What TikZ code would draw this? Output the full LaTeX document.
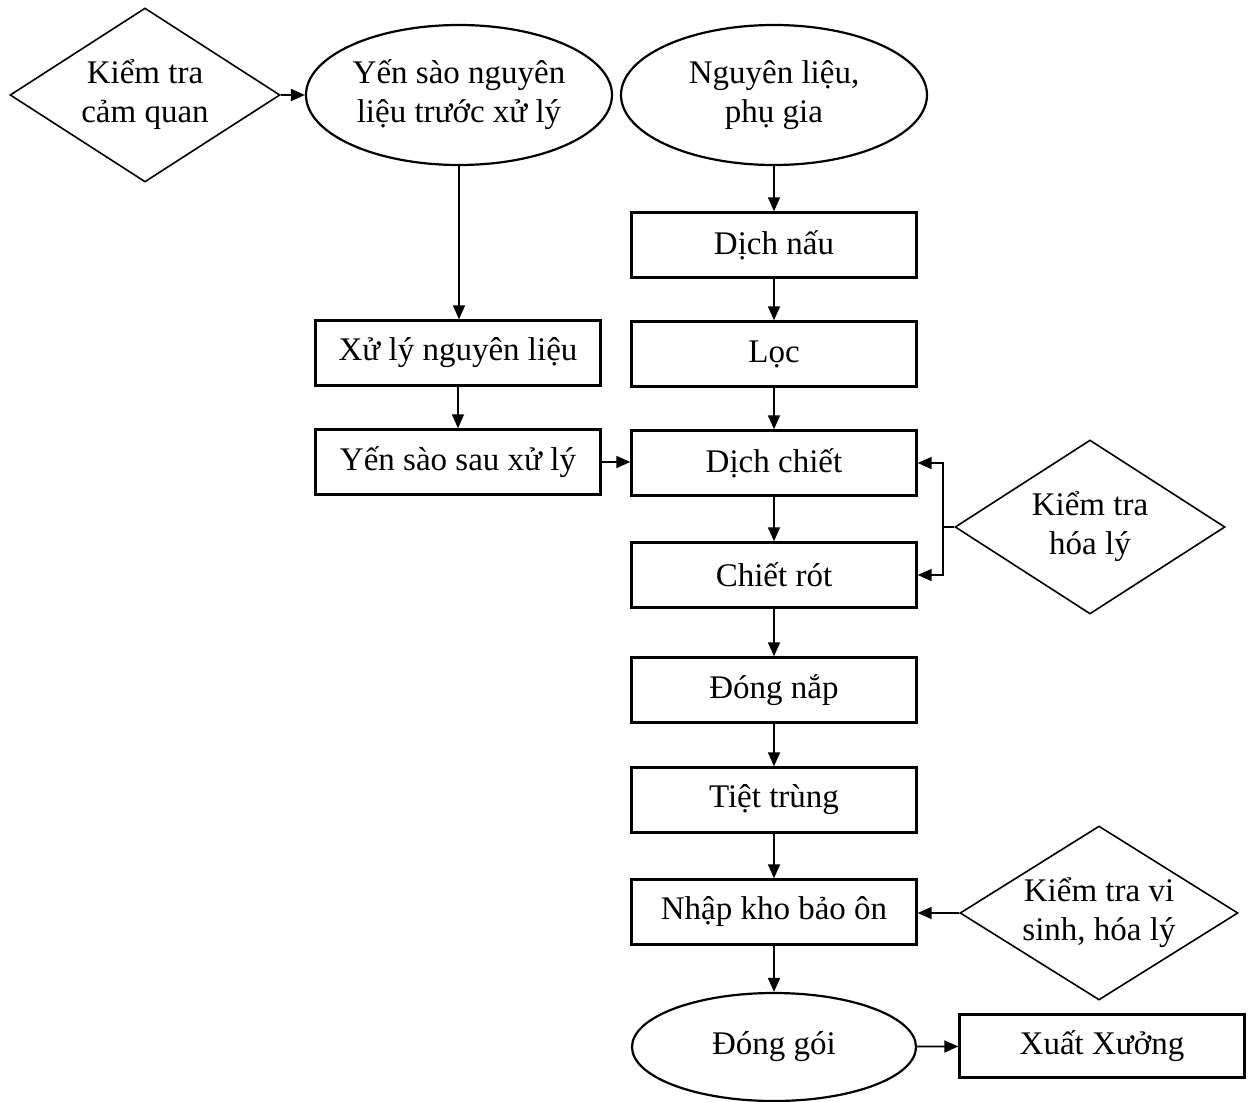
\documentclass[tikz,border=0pt]{standalone}
\usepackage{fontspec}
\setmainfont{Liberation Serif}
\usetikzlibrary{shapes.geometric,arrows.meta}
\begin{document}
\begin{tikzpicture}[x=0.5pt,y=-0.5pt,
  every node/.style={font=\fontsize{16.5pt}{19.5pt}\selectfont, align=center, inner sep=0pt},
  procbox/.style={draw, line width=1.2pt, rectangle, minimum width=142.5pt, minimum height=32.5pt},
  ovalbox/.style={draw, line width=1.1pt, ellipse, minimum width=153pt, minimum height=70pt},
  checkbox/.style={draw, line width=0.8pt, diamond, aspect=1.55, minimum width=135pt, minimum height=87pt},
  arr/.style={line width=0.9pt, -{Triangle[length=7pt,width=6pt]}},
  ln/.style={line width=0.9pt}]
\useasboundingbox (0,0) rectangle (1253,1102);
% left branch
\node[checkbox] (kcq) at (145,95) {Kiểm tra\\cảm quan};
\node[ovalbox] (ysn) at (459,95) {Yến sào nguyên\\liệu trước xử lý};
\node[procbox] (xl) at (458,353) {Xử lý nguyên liệu};
\node[procbox] (ys) at (458,462) {Yến sào sau xử lý};
% main column
\node[ovalbox] (nl) at (774,95) {Nguyên liệu,\\phụ gia};
\node[procbox] (dn) at (774,245) {Dịch nấu};
\node[procbox] (loc) at (774,354) {Lọc};
\node[procbox] (dc) at (774,463) {Dịch chiết};
\node[procbox] (cr) at (774,575) {Chiết rót};
\node[procbox] (dnap) at (774,690) {Đóng nắp};
\node[procbox] (tt) at (774,800) {Tiệt trùng};
\node[procbox] (nk) at (774,912) {Nhập kho bảo ôn};
\node[ovalbox, minimum width=142pt, minimum height=54pt] (dg) at (774,1047) {Đóng gói};
\node[procbox, minimum height=31.5pt] (xx) at (1102,1046) {Xuất Xưởng};
% checks on the right
\node[checkbox] (khl) at (1090,527) {Kiểm tra\\hóa lý};
\node[checkbox, minimum width=139pt] (kvs) at (1099,913) {Kiểm tra vi\\sinh, hóa lý};
\coordinate (j) at (943,527);
% connectors
\draw[arr] (kcq.east) -- (ysn.west);
\draw[arr] (ysn.south) -- (ysn.south |- xl.north);
\draw[arr] (xl) -- (ys);
\draw[arr] (ys.east) -- (ys.east -| dc.west);
\draw[arr] (nl) -- (dn);
\draw[arr] (dn) -- (loc);
\draw[arr] (loc) -- (dc);
\draw[arr] (dc) -- (cr);
\draw[arr] (cr) -- (dnap);
\draw[arr] (dnap) -- (tt);
\draw[arr] (tt) -- (nk);
\draw[arr] (nk) -- (dg);
\draw[arr] (dg) -- (xx);
\draw[ln] (khl.west) -- (j);
\draw[arr] (j) |- (dc.east);
\draw[arr] (j) |- (cr.east);
\draw[arr] (kvs.west) -- (kvs.west -| nk.east);
\end{tikzpicture}
\end{document}
